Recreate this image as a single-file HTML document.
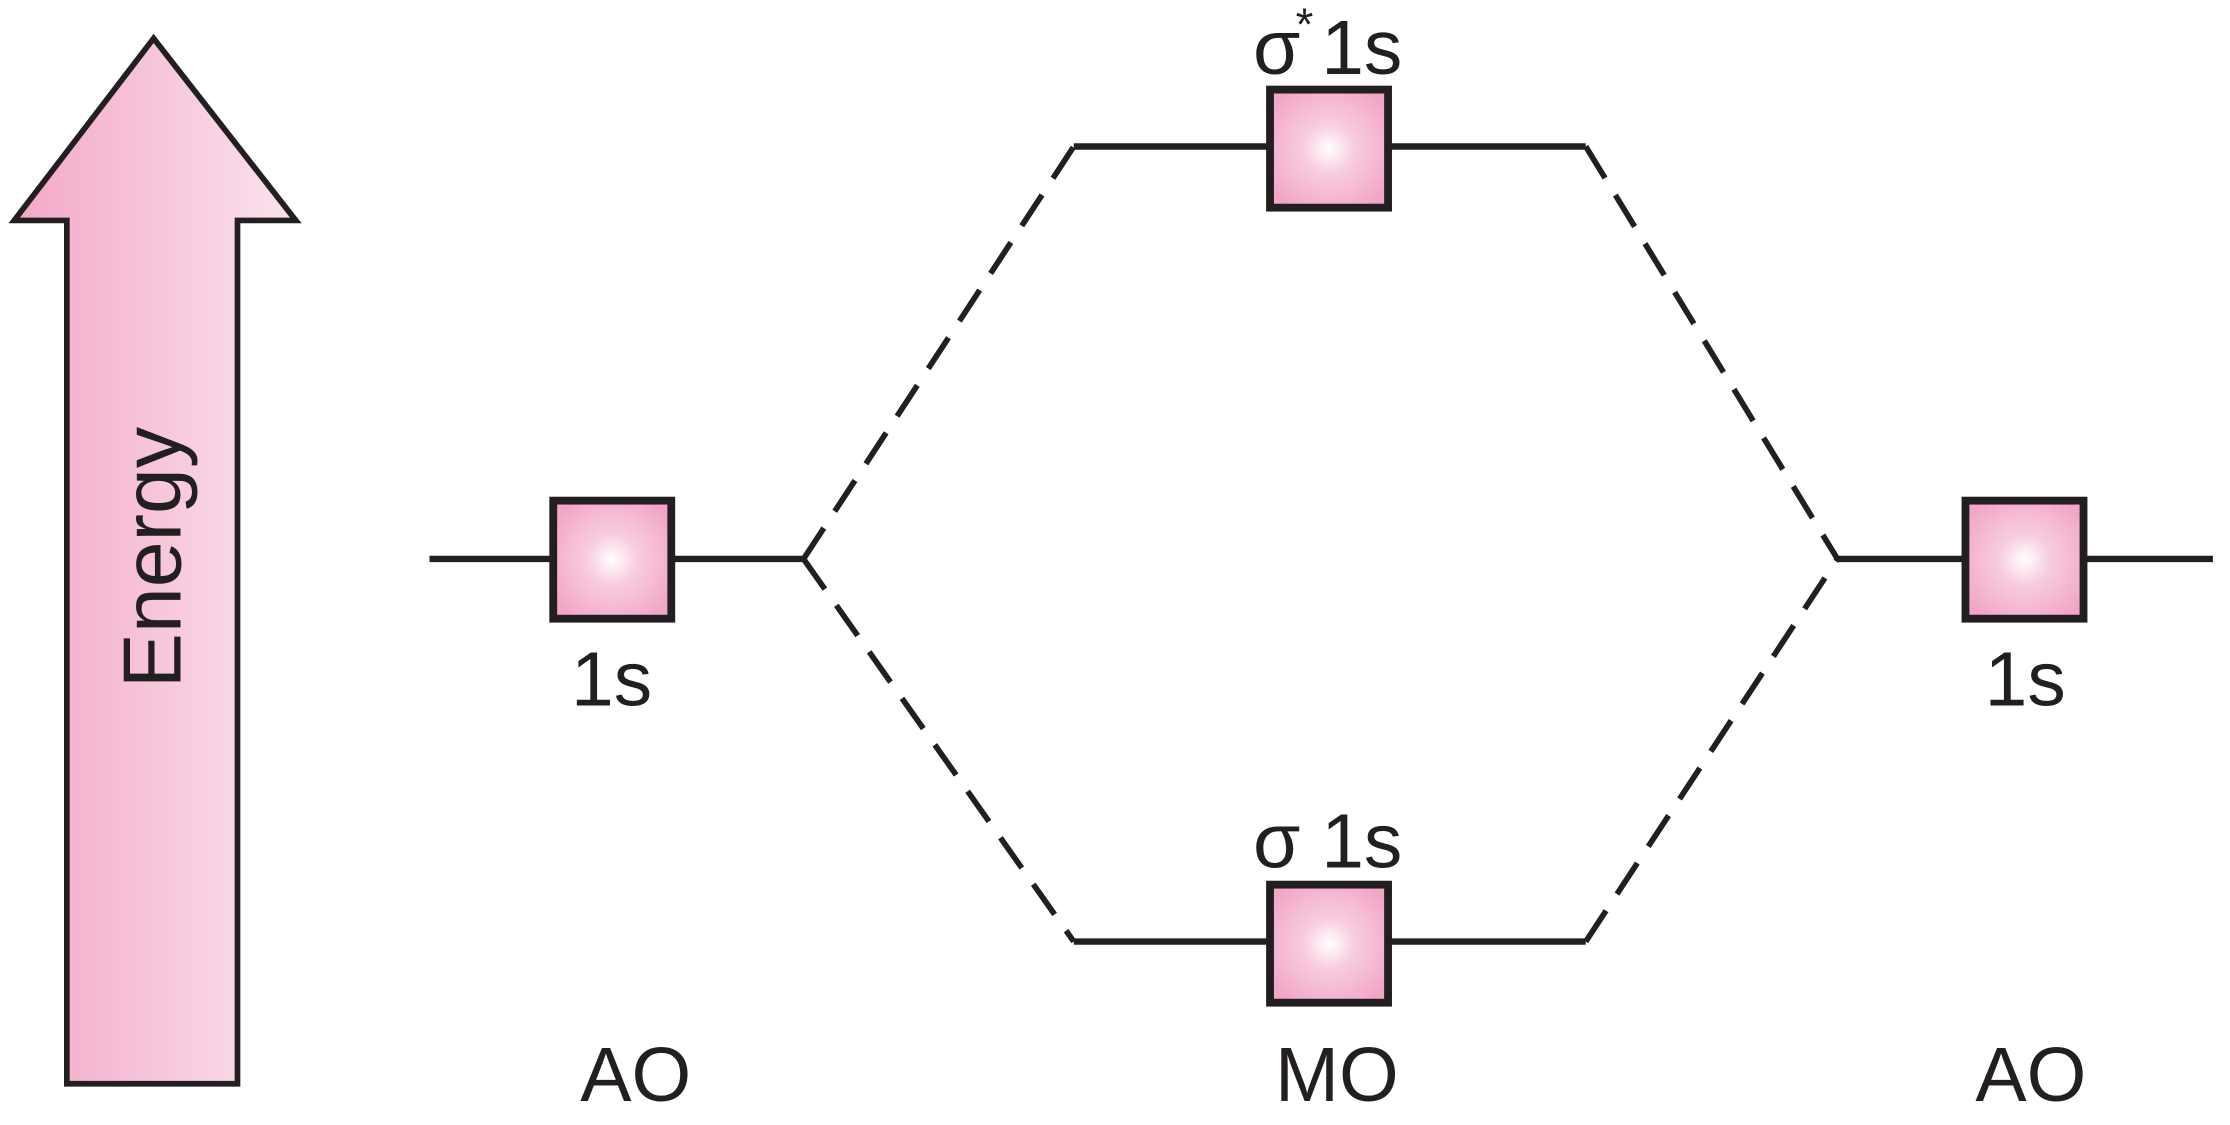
<!DOCTYPE html>
<html><head><meta charset="utf-8"><style>
html,body{margin:0;padding:0;background:#fff;}
svg{display:block;}
text{font-family:"Liberation Sans",sans-serif;fill:#231f20;}
</style></head><body>
<svg width="2230" height="1125" viewBox="0 0 1568 791" preserveAspectRatio="none" xmlns="http://www.w3.org/2000/svg">
<defs>
<linearGradient id="ag" x1="0" y1="0" x2="1" y2="0">
<stop offset="0" stop-color="#f3a8c8"/><stop offset="1" stop-color="#fbe3ee"/>
</linearGradient>
<radialGradient id="bg" cx="0.5" cy="0.5" r="0.6">
<stop offset="0" stop-color="#ffffff"/><stop offset="0.35" stop-color="#f8cde0"/><stop offset="1" stop-color="#f2a5c6"/>
</radialGradient>
</defs>
<polygon points="108,27 208,155 167,155 167,762 47,762 47,155 10,155" fill="url(#ag)" stroke="#231f20" stroke-width="4" stroke-linejoin="miter"/>
<text x="0" y="0" font-size="58" text-anchor="middle" transform="translate(127,392) rotate(-90)">Energy</text>
<g stroke="#231f20" stroke-width="4.5">
<line x1="302" y1="393" x2="565" y2="393"/>
<line x1="1292" y1="393" x2="1556" y2="393"/>
<line x1="755" y1="103" x2="1115" y2="103"/>
<line x1="755" y1="662" x2="1115" y2="662"/>
</g>
<g stroke="#231f20" stroke-width="4" stroke-dasharray="26,14" fill="none">
<line x1="565" y1="393" x2="755" y2="103"/>
<line x1="565" y1="393" x2="755" y2="662"/>
<line x1="1115" y1="103" x2="1292" y2="393"/>
<line x1="1115" y1="662" x2="1292" y2="393"/>
</g>
<g fill="url(#bg)" stroke="#231f20" stroke-width="5.5">
<rect x="389" y="352" width="83" height="83"/>
<rect x="1382" y="352" width="83" height="83"/>
<rect x="893" y="63" width="83" height="83"/>
<rect x="893" y="622" width="83" height="83"/>
</g>
<text x="430" y="496" font-size="54" text-anchor="middle">1s</text>
<text x="1424" y="496" font-size="54" text-anchor="middle">1s</text>
<text x="881" y="52" font-size="54">σ</text>
<text x="911" y="28" font-size="32">*</text>
<text x="929" y="52" font-size="54">1s</text>
<text x="881" y="610" font-size="54">σ</text>
<text x="929" y="610" font-size="54">1s</text>
<text x="447" y="774" font-size="54" text-anchor="middle">AO</text>
<text x="940" y="774" font-size="54" text-anchor="middle">MO</text>
<text x="1428" y="774" font-size="54" text-anchor="middle">AO</text>
</svg>
</body></html>
